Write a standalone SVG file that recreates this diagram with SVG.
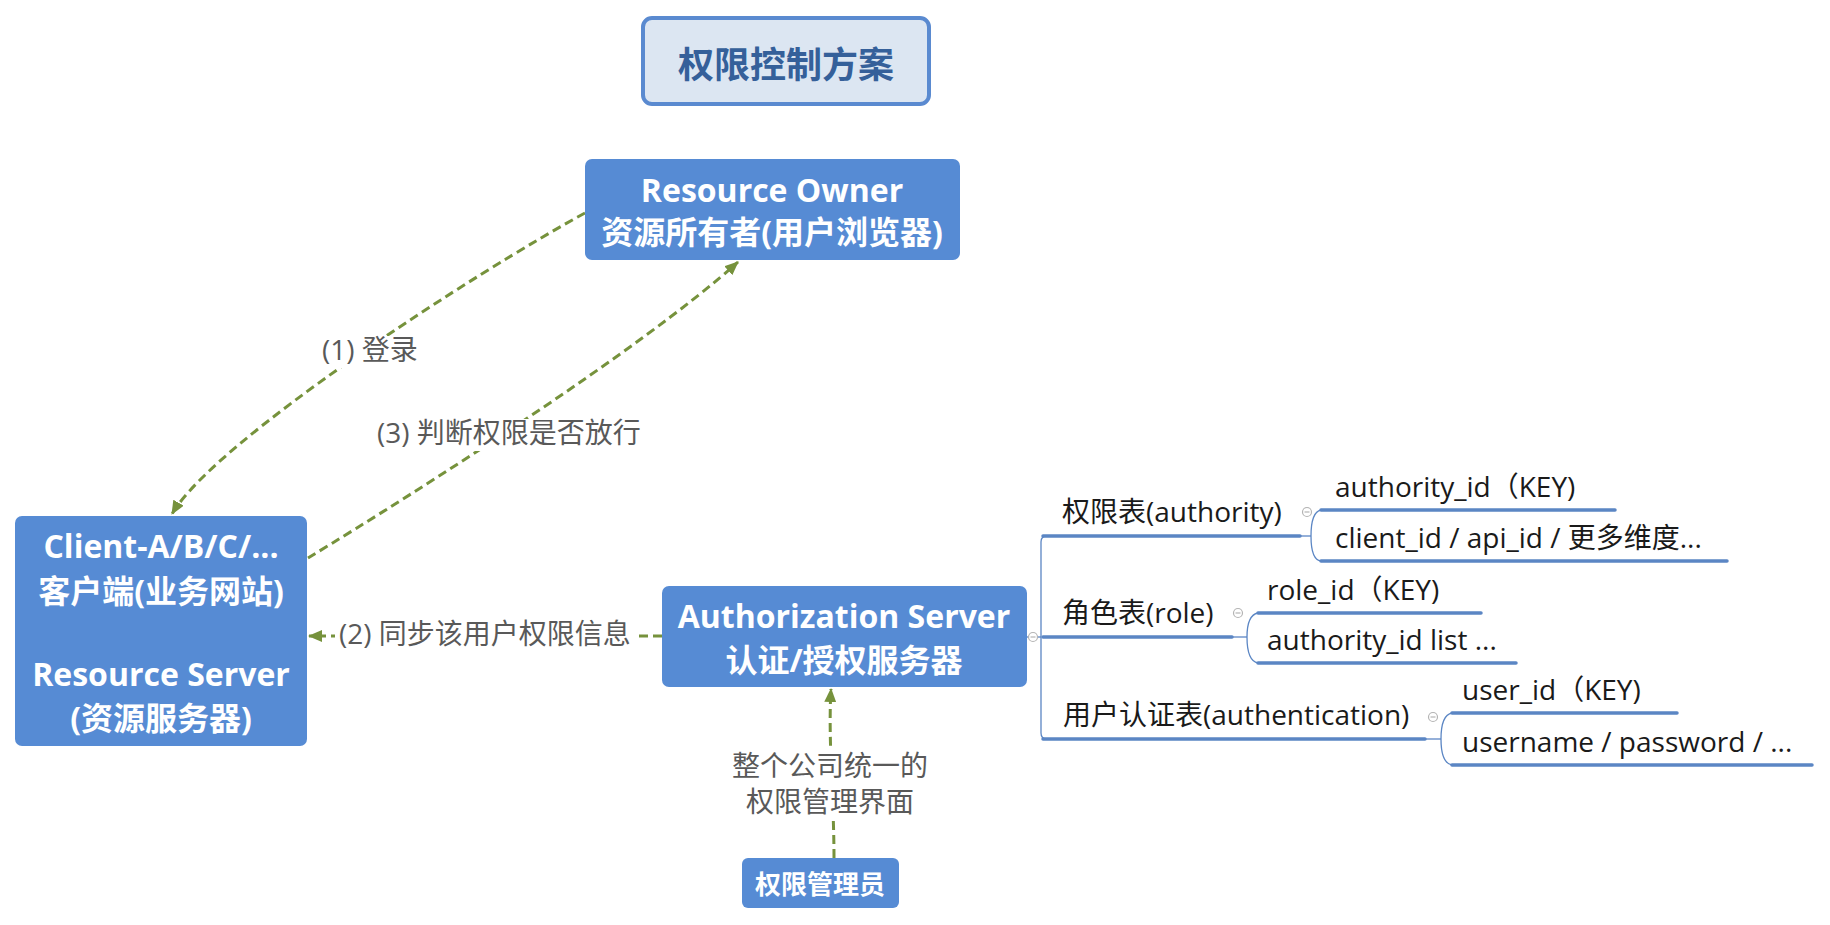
<svg xmlns="http://www.w3.org/2000/svg" width="1830" height="925" viewBox="0 0 1830 925">
<defs>
<style>
.box{fill:#568BD4;}
.bt{font-family:"Open Sans","Noto Sans CJK SC",sans-serif;font-weight:bold;fill:#ffffff;text-anchor:middle;}
.lbl{font-family:"Open Sans","Noto Sans CJK SC",sans-serif;font-size:28px;fill:#595959;}
.t{font-family:"Open Sans","Noto Sans CJK SC",sans-serif;font-size:28px;fill:#1a1a1a;}
.edge{fill:none;stroke:#76923C;stroke-width:3;stroke-dasharray:9 5;}
.ul{stroke:#5B86C4;stroke-width:3.5;stroke-linecap:round;fill:none;}
.thin{stroke:#5B86C4;stroke-width:1.3;fill:none;}
.col{fill:#ffffff;stroke:#b4b4b4;stroke-width:1.2;}
.cm{stroke:#b4b4b4;stroke-width:1.2;}
</style>
<marker id="arr" markerUnits="userSpaceOnUse" markerWidth="14" markerHeight="12" viewBox="0 0 14 12" refX="13" refY="6" orient="auto">
<path d="M0 0 L14 6 L0 12 z" fill="#76923C"/>
</marker>
</defs>
<rect width="1830" height="925" fill="#ffffff"/>

<g id="connectors">
<path class="edge" d="M 585 213 C 480 270, 215 440, 172 514" marker-end="url(#arr)"/>
<path class="edge" d="M 308 558 C 420 490, 640 350, 738 262" marker-end="url(#arr)"/>
<path class="edge" d="M 662 636 L 309 636" marker-end="url(#arr)"/>
<path class="edge" d="M 834 858 C 834 800, 828 740, 831 689" marker-end="url(#arr)"/>
<g id="edge-labels">
<rect x="318" y="336" width="104" height="32" fill="#ffffff"/>
<text class="lbl" x="322" y="360">(1) 登录</text>
<rect x="373" y="419" width="272" height="32" fill="#ffffff"/>
<text class="lbl" x="377" y="443">(3) 判断权限是否放行</text>
<rect x="335" y="619" width="302" height="32" fill="#ffffff"/>
<text class="lbl" x="339" y="644">(2) 同步该用户权限信息</text>
<rect x="726" y="748" width="208" height="72" fill="#ffffff"/>
<text class="lbl" x="830" y="776" text-anchor="middle">整个公司统一的</text>
<text class="lbl" x="830" y="812" text-anchor="middle">权限管理界面</text>
</g>
<g id="tree-lines">
<line class="thin" x1="1027" y1="637" x2="1041" y2="637"/>
<path class="thin" d="M 1047 536 Q 1041 536 1041 542 L 1041 733 Q 1041 739 1047 739"/>
<line class="thin" x1="1300" y1="536" x2="1311" y2="536"/>
<path class="thin" d="M 1321 510 Q 1311 512 1311 536 Q 1311 560 1321 561"/>
<line class="thin" x1="1232" y1="637" x2="1247" y2="637"/>
<path class="thin" d="M 1258 613 Q 1247 615 1247 637 Q 1247 661 1258 663"/>
<line class="thin" x1="1425" y1="739" x2="1441" y2="739"/>
<path class="thin" d="M 1452 713 Q 1441 715 1441 739 Q 1441 763 1452 765"/>
</g>
</g>

<g id="title">
<rect x="643" y="18" width="286" height="86" rx="9" fill="#DCE6F2" stroke="#5A8AD0" stroke-width="4"/>
<text x="786" y="78" font-family="'Noto Sans CJK SC',sans-serif" font-weight="bold" font-size="36" fill="#35609A" text-anchor="middle">权限控制方案</text>
</g>

<g id="resource-owner">
<rect class="box" x="585" y="159" width="375" height="101" rx="7"/>
<text class="bt" x="772" y="202" font-size="32">Resource Owner</text>
<text class="bt" x="772" y="244" font-size="32">资源所有者(用户浏览器)</text>
</g>

<g id="client">
<rect class="box" x="15" y="516" width="292" height="230" rx="7"/>
<text class="bt" x="161" y="558" font-size="32">Client-A/B/C/...</text>
<text class="bt" x="161" y="603" font-size="32">客户端(业务网站)</text>
<text class="bt" x="161" y="686" font-size="32">Resource Server</text>
<text class="bt" x="161" y="730" font-size="32">(资源服务器)</text>
</g>

<g id="auth-server">
<rect class="box" x="662" y="586" width="365" height="101" rx="7"/>
<text class="bt" x="844" y="628" font-size="32">Authorization Server</text>
<text class="bt" x="844" y="672" font-size="32">认证/授权服务器</text>
<circle class="col" cx="1033" cy="637" r="4.5"/><line class="cm" x1="1030.5" y1="637" x2="1035.5" y2="637"/>
</g>

<g id="admin">
<rect class="box" x="742" y="858" width="157" height="50" rx="6"/>
<text class="bt" x="820" y="894" font-size="26">权限管理员</text>
</g>

<g id="authority-table">
<text class="t" x="1062" y="522">权限表(authority)</text>
<line class="ul" x1="1043" y1="536" x2="1300" y2="536"/>
<circle class="col" cx="1307" cy="512" r="4.5"/><line class="cm" x1="1304.5" y1="512" x2="1309.5" y2="512"/>
</g>
<g id="authority-key">
<text class="t" x="1335" y="497">authority_id（KEY)</text>
<line class="ul" x1="1321" y1="510" x2="1615" y2="510"/>
</g>
<g id="authority-fields">
<text class="t" x="1335" y="548">client_id / api_id / 更多维度...</text>
<line class="ul" x1="1321" y1="561" x2="1727" y2="561"/>
</g>

<g id="role-table">
<text class="t" x="1062" y="623">角色表(role)</text>
<line class="ul" x1="1043" y1="637" x2="1232" y2="637"/>
<circle class="col" cx="1238" cy="613" r="4.5"/><line class="cm" x1="1235.5" y1="613" x2="1240.5" y2="613"/>
</g>
<g id="role-key">
<text class="t" x="1267" y="600">role_id（KEY)</text>
<line class="ul" x1="1258" y1="613" x2="1481" y2="613"/>
</g>
<g id="role-fields">
<text class="t" x="1267" y="650">authority_id list ...</text>
<line class="ul" x1="1258" y1="663" x2="1516" y2="663"/>
</g>

<g id="auth-table">
<text class="t" x="1063" y="725">用户认证表(authentication)</text>
<line class="ul" x1="1043" y1="739" x2="1425" y2="739"/>
<circle class="col" cx="1433" cy="717" r="4.5"/><line class="cm" x1="1430.5" y1="717" x2="1435.5" y2="717"/>
</g>
<g id="user-key">
<text class="t" x="1462" y="700">user_id（KEY)</text>
<line class="ul" x1="1452" y1="713" x2="1677" y2="713"/>
</g>
<g id="user-fields">
<text class="t" x="1462" y="752">username / password / ...</text>
<line class="ul" x1="1452" y1="765" x2="1812" y2="765"/>
</g>
</svg>
